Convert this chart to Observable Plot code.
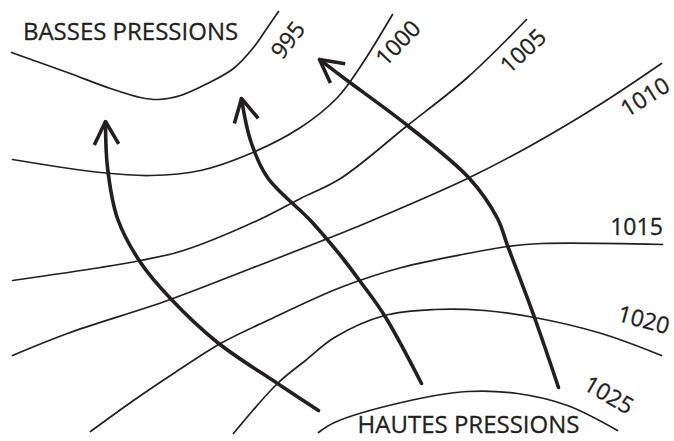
<!DOCTYPE html>
<html><head><meta charset="utf-8">
<script src="https://cdn.jsdelivr.net/npm/d3@7"></script>
<script src="https://cdn.jsdelivr.net/npm/@observablehq/plot@0.6"></script>
<style>html,body{margin:0;padding:0;background:#fff;overflow:hidden}</style>
</head><body><div id="chart"></div>
<script>
// Isobars (hPa) traced as point lists
const isobarValues = [995, 1000, 1005, 1010, 1015, 1020, 1025];
const isobar995  = [[11,52],[67,72],[110,88],[140,97],[158,99],[180,95],[207,83],[233,68],[253,47],[267,27],[278,11]];
const isobar1000 = [[12,159],[100,172],[150,175],[200,170],[250,153],[300,127],[337,97],[360,66],[392,14]];
const isobar1005 = [[12,280],[100,267],[140,260],[183,250],[257,220],[300,198],[340,178],[407,125],[467,77],[526,19]];
const isobar1010 = [[12,355],[67,333],[167,300],[253,267],[340,233],[374,219],[467,178],[534,143],[601,103],[661,63]];
const isobar1015 = [[90,431],[133,400],[173,373],[220,343],[267,320],[340,287],[401,267],[467,253],[507,246],[541,243],[662,244]];
const isobar1020 = [[233,433],[277,383],[305,360],[334,337],[384,315],[434,309],[484,310],[534,317],[601,333],[661,355]];
const isobar1025 = [[318,432],[334,422],[401,402],[467,391],[517,393],[567,405],[617,430]];
const isobars = [isobar995, isobar1000, isobar1005, isobar1010, isobar1015, isobar1020, isobar1025];

// Wind arrows (from high to low pressure)
const arrow1 = [[318,410],[277,383],[217,342],[170,298],[140,262],[117,218],[107,167],[105,121]];
const arrow2 = [[421,383],[384,315],[359,280],[340,255],[310,220],[267,177],[250,140],[241,98]];
const arrow3 = [[558,387],[534,317],[507,245],[497,218],[469,178],[407,125],[344,78],[319,59]];
const arrows = [arrow1, arrow2, arrow3];

// Labels
const isobarLabelText = ["995", "1000", "1005", "1010", "1015", "1020", "1025"];
const isobarLabelX = [288, 398, 523, 645, 636, 643, 608];
const isobarLabelY = [40, 43, 51, 97, 227, 320, 395];
const isobarLabelAngle = [-52, -46, -43, -32, 0, 15, 30];
const zoneText = ["BASSES PRESSIONS", "HAUTES PRESSIONS"];
const zoneX = [130, 468];
const zoneY = [31.5, 425];

const ink = "#231f20";
const font = "'Open Sans', 'DejaVu Sans', sans-serif";

const isobarRows = isobars.flatMap((pts, i) => pts.map(([x, y]) => ({id: isobarValues[i], x, y})));
const arrowRows = arrows.flatMap((pts, i) => pts.map(([x, y]) => ({id: i, x, y})));

// arrowheads derived from the last segment of each arrow
const headRows = arrows.flatMap((pts, i) => {
  const [tx, ty] = pts[pts.length - 1];
  const [px, py] = pts[pts.length - 2];
  const d = Math.hypot(px - tx, py - ty);
  const ux = (px - tx) / d, uy = (py - ty) / d;
  const a = 28 * Math.PI / 180, L = 26;
  const rot = (s) => [tx + L * (ux * Math.cos(s * a) - uy * Math.sin(s * a)),
                      ty + L * (ux * Math.sin(s * a) + uy * Math.cos(s * a))];
  const b1 = rot(1), b2 = rot(-1);
  return [{id: i, x: b1[0], y: b1[1]}, {id: i, x: tx, y: ty}, {id: i, x: b2[0], y: b2[1]}];
});

const labelRows = isobarLabelText.map((t, i) => ({t, x: isobarLabelX[i], y: isobarLabelY[i], r: isobarLabelAngle[i]}));
const zoneRows = zoneText.map((t, i) => ({t, x: zoneX[i], y: zoneY[i]}));

const chart = Plot.plot({
  width: 674,
  height: 441,
  margin: 0,
  style: {background: "#fff", fontFamily: font},
  x: {domain: [0, 674], range: [0, 674], axis: null},
  y: {domain: [0, 441], range: [0, 441], axis: null},
  marks: [
    Plot.line(isobarRows, {x: "x", y: "y", z: "id", curve: "catmull-rom", stroke: ink, strokeWidth: 1.7}),
    Plot.line(arrowRows, {x: "x", y: "y", z: "id", curve: "catmull-rom", stroke: ink, strokeWidth: 3.6}),
    Plot.line(headRows, {x: "x", y: "y", z: "id", curve: "linear", stroke: ink, strokeWidth: 3.6, strokeLinejoin: "miter", strokeLinecap: "butt"}),
    Plot.text(labelRows, {x: "x", y: "y", text: "t", rotate: "r", fill: ink, fontSize: 23, fontFamily: font, textAnchor: "middle", lineAnchor: "middle", stroke: ink, strokeWidth: 0.3}),
    Plot.text(zoneRows, {x: "x", y: "y", text: "t", fill: ink, fontSize: 24, fontFamily: font, textAnchor: "middle", lineAnchor: "middle", stroke: ink, strokeWidth: 0.3})
  ]
});
document.getElementById("chart").appendChild(chart);
</script>
</body></html>
